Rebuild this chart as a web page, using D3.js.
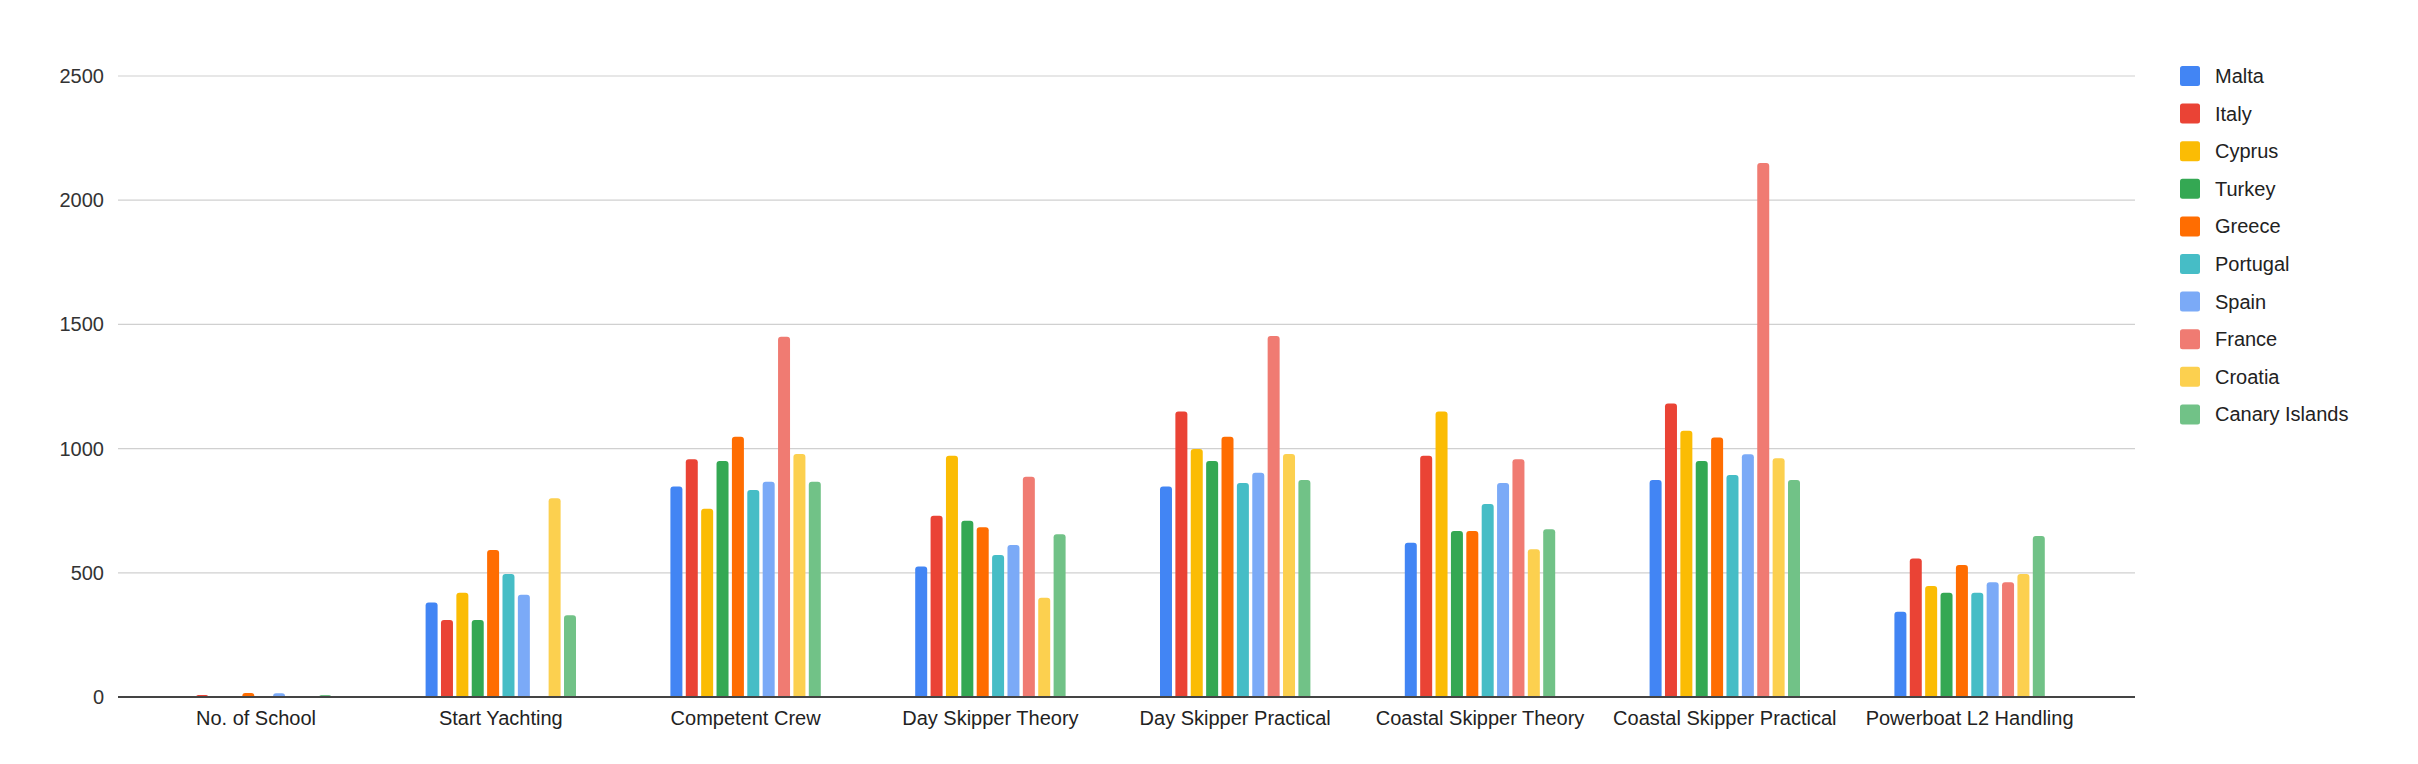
<!DOCTYPE html>
<html>
<head>
<meta charset="utf-8">
<script src="https://cdn.jsdelivr.net/npm/d3@7"></script>
<style>
  html, body { margin: 0; padding: 0; background: #fff; }
  svg { display: block; }
  text { font-family: "Liberation Sans", Arial, sans-serif; }
</style>
</head>
<body>
<svg id="chart" width="2418" height="764"></svg>
<script>
const categories = ["No. of School", "Start Yachting", "Competent Crew", "Day Skipper Theory",
  "Day Skipper Practical", "Coastal Skipper Theory", "Coastal Skipper Practical", "Powerboat L2 Handling"];
const countries = ["Malta", "Italy", "Cyprus", "Turkey", "Greece", "Portugal", "Spain", "France", "Croatia", "Canary Islands"];
const colors = ["#4285F4", "#EA4335", "#FBBC04", "#34A853", "#FF6D01", "#46BDC6", "#7BAAF7", "#F07B72", "#FCD04F", "#71C287"];

// values per country, in category order
const malta    = [0, 380, 847, 525, 847, 621, 874, 343];
const italy    = [8, 310, 957, 730, 1149, 971, 1182, 558];
const cyprus   = [0, 420, 758, 971, 998, 1149, 1072, 447];
const turkey   = [0, 310, 950, 710, 950, 668, 950, 420];
const greece   = [16, 592, 1048, 683, 1048, 668, 1045, 531];
const portugal = [0, 495, 833, 572, 862, 777, 894, 420];
const spain    = [15, 412, 867, 612, 903, 862, 977, 462];
const france   = [0, 0, 1450, 887, 1453, 957, 2150, 462];
const croatia  = [0, 800, 978, 400, 978, 595, 961, 495];
const canary   = [7, 329, 867, 655, 874, 675, 874, 648];
const seriesValues = [malta, italy, cyprus, turkey, greece, portugal, spain, france, croatia, canary];

const yTicks = [0, 500, 1000, 1500, 2000, 2500];

const svg = d3.select("#chart");
const plotLeft = 118, plotRight = 2135, plotTop = 76, plotBottom = 697;

const y = d3.scaleLinear().domain([0, 2500]).range([plotBottom, plotTop]);

// group positions
const x0 = d3.scaleBand().domain(categories).range([133.6, 2092]).paddingInner(0).paddingOuter(0);
const groupWidth = 150.4;
const x1 = d3.scaleBand().domain(countries).range([0, groupWidth]).paddingInner(0.22).paddingOuter(0);

// gridlines
svg.append("g").selectAll("line").data(yTicks.filter(d => d > 0)).join("line")
  .attr("x1", plotLeft).attr("x2", plotRight)
  .attr("y1", d => y(d)).attr("y2", d => y(d))
  .attr("stroke", "#d0d0d0").attr("stroke-width", 1.2);

// y labels
svg.append("g").selectAll("text").data(yTicks).join("text")
  .attr("x", 104).attr("y", d => y(d)).attr("dy", "0.35em")
  .attr("text-anchor", "end").attr("font-size", 20).attr("fill", "#333")
  .text(d => d);

// bars
function barPath(xl, w, yt, yb) {
  const h = yb - yt;
  const r = Math.min(3, h, w / 2);
  return `M${xl},${yb} L${xl},${yt + r} Q${xl},${yt} ${xl + r},${yt} L${xl + w - r},${yt} Q${xl + w},${yt} ${xl + w},${yt + r} L${xl + w},${yb} Z`;
}
const barData = [];
categories.forEach((c, ci) => {
  countries.forEach((s, si) => {
    const v = seriesValues[si][ci];
    if (v > 0) barData.push({ c, s, si, v });
  });
});
svg.append("g").selectAll("path").data(barData).join("path")
  .attr("d", d => {
    const gx = x0(d.c) + (x0.bandwidth() - groupWidth) / 2;
    const xl = gx + x1(d.s);
    const yt = Math.min(y(d.v), plotBottom - 2);
    return barPath(xl, x1.bandwidth(), yt, plotBottom);
  })
  .attr("fill", d => colors[d.si]);

// baseline
svg.append("line").attr("x1", plotLeft).attr("x2", plotRight)
  .attr("y1", plotBottom).attr("y2", plotBottom)
  .attr("stroke", "#444").attr("stroke-width", 2);

// x labels
svg.append("g").selectAll("text").data(categories).join("text")
  .attr("x", d => x0(d) + x0.bandwidth() / 2).attr("y", 725)
  .attr("text-anchor", "middle").attr("font-size", 20).attr("fill", "#222")
  .text(d => d);

// legend
const legend = svg.append("g").attr("transform", "translate(2180,66)");
const items = legend.selectAll("g").data(countries).join("g")
  .attr("transform", (d, i) => `translate(0,${i * 37.6})`);
items.append("rect").attr("width", 20).attr("height", 20).attr("rx", 2.5)
  .attr("fill", (d, i) => colors[i]);
items.append("text").attr("x", 35).attr("y", 10).attr("dy", "0.35em")
  .attr("font-size", 20).attr("fill", "#222").text(d => d);
</script>
</body>
</html>
